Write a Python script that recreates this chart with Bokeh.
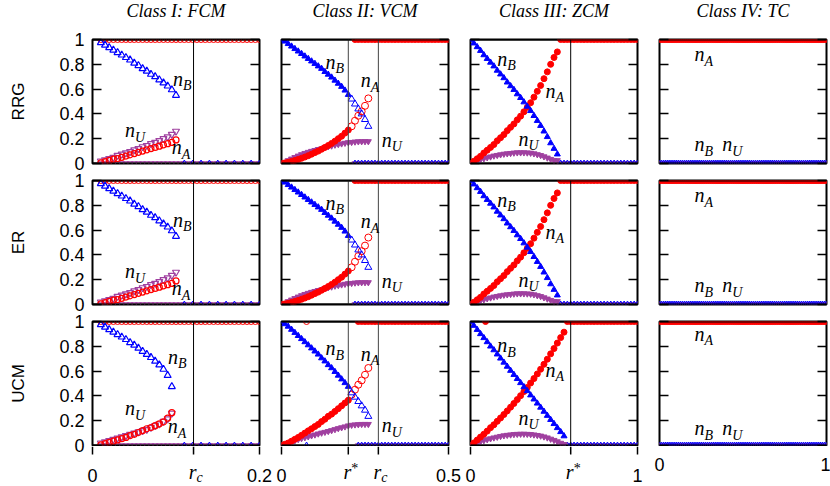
import numpy as np
from bokeh.plotting import figure
from bokeh.layouts import gridplot, column, row
from bokeh.models import Span, Label, FixedTicker, LinearAxis, Range1d
from bokeh.embed import file_html
from bokeh.resources import INLINE

# ---------------- data ----------------
titles = ["Class I: FCM", "Class II: VCM", "Class III: ZCM", "Class IV: TC"]
rows = ["RRG", "ER", "UCM"]
x_max = [0.2, 0.5, 1.0, 1.0]
y_ticks = [0, 0.2, 0.4, 0.6, 0.8, 1]
y_tick_labels = ["0", "0.2", "0.4", "0.6", "0.8", "1"]

# Class I : FCM
fcm_rc = 0.121
fcm_x = [0.01, 0.015, 0.02, 0.025, 0.03, 0.035, 0.04, 0.045, 0.05, 0.055,
         0.06, 0.065, 0.07, 0.075, 0.08, 0.085, 0.09, 0.095, 0.1]
fcm_rrg_nB = [.975, .955, .935, .915, .895, .875, .855, .835, .81, .79, .765, .745, .72, .70, .675, .65, .625, .595, .55]
fcm_rrg_nU = [.02, .03, .04, .05, .065, .075, .085, .095, .11, .12, .135, .145, .16, .17, .185, .20, .215, .235, .26]
fcm_rrg_nA = [.005, .015, .025, .035, .04, .05, .06, .07, .08, .09, .10, .11, .12, .13, .14, .15, .16, .17, .19]
fcm_er_nB = [.975, .955, .935, .915, .895, .875, .855, .835, .81, .79, .765, .745, .72, .70, .675, .65, .625, .595, .55]
fcm_er_nU = [.02, .03, .04, .05, .065, .075, .085, .095, .11, .12, .135, .145, .16, .17, .185, .20, .215, .235, .26]
fcm_er_nA = [.005, .015, .025, .035, .04, .05, .06, .07, .08, .09, .10, .11, .12, .13, .14, .15, .16, .17, .19]
fcm_ucm_x = fcm_x[:18]
fcm_ucm_nB = [.975, .955, .935, .915, .895, .875, .855, .83, .81, .785, .76, .735, .71, .68, .65, .615, .565, .475]
fcm_ucm_nU = [.02, .03, .04, .05, .06, .07, .08, .09, .10, .11, .12, .13, .145, .16, .175, .195, .215, .26]
fcm_ucm_nA = [.005, .015, .025, .035, .045, .055, .065, .08, .09, .105, .12, .135, .145, .16, .175, .19, .22, .265]
fcm_top_x = np.round(np.arange(0.01, 0.2001, 0.005), 4)      # n_A = 1 branch
fcm_zeroB_x = np.round(np.arange(0.11, 0.2001, 0.01), 4)     # n_B = 0 branch

# Class II : VCM
vcm_rstar, vcm_rc = 0.2, 0.29
vcm_x = [0.0, 0.01, 0.02, 0.03, 0.04, 0.05, 0.06, 0.07, 0.08, 0.09, 0.10,
         0.11, 0.12, 0.13, 0.14, 0.15, 0.16, 0.17, 0.18, 0.19, 0.20]
vcm_tail_x = [0.21, 0.22, 0.23, 0.24, 0.25, 0.26]
vcm_rrg_nB = [1.0, .985, .965, .945, .925, .905, .885, .865, .845, .825, .805, .785, .765, .74, .718, .695, .67, .645, .62, .59, .555]
vcm_rrg_nA = [0, .005, .01, .017, .025, .033, .042, .052, .063, .075, .088, .10, .115, .13, .145, .162, .18, .20, .22, .245, .27]
vcm_rrg_nU = [0, .01, .025, .038, .05, .062, .073, .083, .092, .10, .107, .115, .12, .13, .137, .143, .15, .155, .16, .165, .17]
vcm_rrg_tail_nB = [.52, .48, .44, .40, .355, .30]
vcm_rrg_tail_nA = [.30, .345, .385, .42, .465, .525]
vcm_rrg_tail_nU = [.172, .175, .177, .178, .178, .178]
vcm_er_nB = [1.0, .985, .965, .945, .925, .905, .885, .865, .845, .825, .805, .785, .765, .74, .718, .695, .67, .645, .62, .59, .555]
vcm_er_nA = [0, .005, .01, .017, .025, .033, .042, .052, .063, .075, .088, .10, .115, .13, .145, .162, .18, .20, .22, .245, .27]
vcm_er_nU = [0, .01, .025, .038, .05, .062, .073, .083, .092, .10, .107, .115, .12, .13, .137, .143, .15, .155, .16, .165, .17]
vcm_er_tail_nB = [.52, .48, .44, .40, .355, .30]
vcm_er_tail_nA = [.30, .345, .39, .43, .475, .54]
vcm_er_tail_nU = [.172, .175, .177, .178, .178, .178]
vcm_ucm_nB = [1.0, .98, .96, .935, .91, .885, .86, .835, .81, .785, .76, .735, .705, .68, .65, .625, .595, .565, .535, .505, .475]
vcm_ucm_nA = [0, .01, .02, .035, .05, .065, .082, .10, .118, .135, .153, .17, .193, .212, .235, .253, .275, .297, .32, .343, .365]
vcm_ucm_nU = [0, .01, .02, .03, .04, .05, .058, .065, .072, .08, .087, .095, .102, .108, .115, .122, .13, .138, .145, .152, .16]
vcm_ucm_tail_nB = [.425, .39, .355, .32, .285, .235]
vcm_ucm_tail_nA = [.41, .45, .49, .525, .57, .625]
vcm_ucm_tail_nU = [.165, .168, .17, .172, .172, .172]
vcm_branch_x = np.round(np.arange(0.22, 0.5001, 0.01), 4)
vcm_ucm_branch_x = np.round(np.arange(0.23, 0.5001, 0.01), 4)
vcm_ucm_stray_x = [0.075]

# Class III : ZCM
zcm_rstar = 0.6
zcm_x = [0.0, 0.02, 0.04, 0.06, 0.08, 0.10, 0.12, 0.14, 0.16, 0.18, 0.20, 0.22, 0.24, 0.26,
         0.28, 0.30, 0.32, 0.34, 0.36, 0.38, 0.40, 0.42, 0.44, 0.46, 0.48, 0.50, 0.52]
zcm_rrg_nB = [1, .97, .94, .91, .875, .845, .815, .785, .75, .72, .69, .655, .625, .595, .56, .53, .495, .46, .425, .385, .345, .305, .26, .215, .165, .12, .075]
zcm_rrg_nU = [0, .012, .022, .032, .04, .048, .055, .062, .067, .072, .077, .08, .083, .086, .088, .088, .088, .087, .085, .08, .073, .066, .056, .046, .035, .025, .025]
zcm_rrg_nA = [0, .018, .038, .058, .085, .107, .13, .153, .183, .208, .233, .265, .292, .319, .352, .382, .417, .453, .49, .535, .582, .629, .684, .739, .80, .855, .90]
zcm_er_nB = [1, .97, .94, .91, .875, .845, .815, .785, .75, .72, .69, .655, .625, .595, .56, .53, .495, .46, .425, .385, .345, .305, .26, .215, .165, .12, .075]
zcm_er_nU = [0, .012, .022, .032, .04, .048, .055, .062, .067, .072, .077, .08, .083, .086, .088, .088, .088, .087, .085, .08, .073, .066, .056, .046, .035, .025, .025]
zcm_er_nA = [0, .018, .038, .058, .085, .107, .13, .153, .183, .208, .233, .265, .292, .319, .352, .382, .417, .453, .49, .535, .582, .629, .684, .739, .80, .855, .90]
zcm_ucm_x = zcm_x + [0.54, 0.56]
zcm_ucm_nB = [1, .967, .934, .90, .868, .835, .80, .77, .736, .703, .67, .637, .604, .571, .538, .505, .472, .44, .406, .373, .34, .307, .274, .241, .208, .175, .142, .11, .076]
zcm_ucm_nU = [0, .012, .022, .032, .041, .049, .056, .063, .069, .075, .08, .084, .087, .09, .092, .093, .093, .092, .09, .087, .083, .078, .071, .063, .053, .043, .032, .02, .01]
zcm_ucm_nA = [0, .021, .044, .068, .091, .116, .144, .167, .195, .222, .25, .279, .309, .339, .37, .402, .435, .468, .504, .54, .577, .615, .655, .696, .739, .782, .826, .87, .914]
zcm_branch_x = np.round(np.arange(0.54, 1.0001, 0.02), 4)
zcm_ucm_branch_x = np.round(np.arange(0.58, 1.0001, 0.02), 4)
zcm_ucm_stray_x = [0.09]

# Class IV : TC
tc_x = np.round(np.arange(0.0, 1.0001, 0.0125), 4)

# positions of the in-panel labels n_X (data coords of the baseline of the letter n)
label_pos = {
    0: {"RRG": [("B", .0964, .629), ("U", .039, .21), ("A", .095, .073)],
        "ER":  [("B", .0964, .629), ("U", .039, .21), ("A", .095, .073)],
        "UCM": [("B", .0904, .661), ("U", .039, .242), ("A", .090, .10)]},
    1: {"RRG": [("B", .132, .766), ("A", .237, .613), ("U", .30, .137)],
        "ER":  [("B", .132, .766), ("A", .237, .613), ("U", .30, .137)],
        "UCM": [("B", .132, .726), ("A", .237, .685), ("U", .30, .107)]},
    2: {"RRG": [("B", .16, .79), ("A", .449, .532), ("U", .287, .145)],
        "ER":  [("B", .16, .79), ("A", .449, .532), ("U", .287, .145)],
        "UCM": [("B", .16, .752), ("A", .449, .556), ("U", .287, .169)]},
    3: {"RRG": [("A", .21, .823), ("B", .21, .097), ("U", .375, .097)],
        "ER":  [("A", .21, .823), ("B", .21, .097), ("U", .375, .097)],
        "UCM": [("A", .21, .843), ("B", .21, .081), ("U", .375, .081)]},
}

bottom_ticks = {0: [0, fcm_rc, 0.2], 1: [0, vcm_rstar, vcm_rc, 0.5], 2: [0, zcm_rstar, 1.0], 3: []}
bottom_num_labels = {0: [(0, "0"), (0.2, "0.2")], 1: [(0, "0"), (0.5, "0.5")],
                     2: [(0, "0"), (1.0, "1")], 3: [(0, "0"), (1.0, "1")]}
r_labels = {0: [(fcm_rc, "c")], 1: [(vcm_rstar, "*"), (vcm_rc, "c")], 2: [(zcm_rstar, "*")], 3: []}

# ---------------- styling / layout ----------------
SERIF = "Liberation Serif"
SANS = "Liberation Sans"
RED, BLUE, PURPLE = "#ff0000", "#0000ff", "#a040a0"
MARK = {"A": ("circle", RED), "B": ("triangle", BLUE), "U": ("inverted_triangle", PURPLE)}

W_TOTAL = 830
H_TOTAL = 485
LEFT_W = 86                     # full-height strip holding y tick labels and row names
FW, FH = 167, 124
BORDER_L = [6, 8, 8, 11]
BORDER_R = [14, 14, 11, 4]
BORDER_T = [9, 9, 9]
BORDER_B = [8, 8, 1]
TITLE_H = 30
GRID_H = sum(BORDER_T) + sum(BORDER_B) + 3 * FH
XLAB_H = H_TOTAL - TITLE_H - GRID_H
RIGHT_W = W_TOTAL - LEFT_W
TICK_LEN = 9

# page x of each column's frame left edge
col_left = []
acc = LEFT_W
for c in range(4):
    col_left.append(acc + BORDER_L[c])
    acc += BORDER_L[c] + FW + BORDER_R[c]


def pts(p, x, y, s, size=6, filled=False, lw=1.0):
    m, col = MARK[s]
    p.scatter(x=list(x), y=list(y), marker=m, size=size, line_color=col, line_width=lw,
              fill_color=col if filled else None)


def const(xs, v):
    return [v] * len(xs)


def txt(**kw):
    kw.setdefault("text_baseline", "middle")
    kw.setdefault("text_color", "black")
    return Label(**kw)


def nlabel(p, s, x, y):
    # (x, y) is the baseline start of "n"; labels are anchored at their middle
    p.add_layout(txt(x=x, y=y, y_offset=7, text="n", text_font=SERIF, text_font_style="italic",
                     text_font_size="20px"))
    p.add_layout(txt(x=x, y=y, x_offset=10, y_offset=0, text=s, text_font=SERIF,
                     text_font_style="italic", text_font_size="14px"))


def draw_fcm(p, row_name):
    if row_name == "UCM":
        x, nA, nB, nU = fcm_ucm_x, fcm_ucm_nA, fcm_ucm_nB, fcm_ucm_nU
    elif row_name == "ER":
        x, nA, nB, nU = fcm_x, fcm_er_nA, fcm_er_nB, fcm_er_nU
    else:
        x, nA, nB, nU = fcm_x, fcm_rrg_nA, fcm_rrg_nB, fcm_rrg_nU
    pts(p, fcm_top_x, const(fcm_top_x, 1.0), "A")
    pts(p, fcm_top_x, const(fcm_top_x, 0.0), "U")
    pts(p, fcm_zeroB_x, const(fcm_zeroB_x, 0.0), "B")
    pts(p, x, nU, "U", size=7, lw=1.2)
    pts(p, x, nA, "A", size=6, lw=1.2)
    pts(p, x, nB, "B", size=7, lw=1.2)
    p.add_layout(Span(location=fcm_rc, dimension="height", line_color="black", line_width=1))


def draw_vcm(p, row_name):
    if row_name == "UCM":
        d = (vcm_ucm_nA, vcm_ucm_nB, vcm_ucm_nU, vcm_ucm_tail_nA, vcm_ucm_tail_nB, vcm_ucm_tail_nU)
        bx = vcm_ucm_branch_x
    elif row_name == "ER":
        d = (vcm_er_nA, vcm_er_nB, vcm_er_nU, vcm_er_tail_nA, vcm_er_tail_nB, vcm_er_tail_nU)
        bx = vcm_branch_x
    else:
        d = (vcm_rrg_nA, vcm_rrg_nB, vcm_rrg_nU, vcm_rrg_tail_nA, vcm_rrg_tail_nB, vcm_rrg_tail_nU)
        bx = vcm_branch_x
    nA, nB, nU, tA, tB, tU = d
    p.add_layout(Span(location=vcm_rstar, dimension="height", line_color="#444444", line_width=1))
    p.add_layout(Span(location=vcm_rc, dimension="height", line_color="#444444", line_width=1))
    pts(p, bx, const(bx, 1.0), "A", filled=True)
    pts(p, bx, const(bx, 0.0), "U")
    pts(p, bx, const(bx, 0.0), "B")
    if row_name == "UCM":
        pts(p, vcm_ucm_stray_x, const(vcm_ucm_stray_x, 1.0), "A")
        pts(p, vcm_ucm_stray_x, const(vcm_ucm_stray_x, 0.0), "B")
    pts(p, vcm_x, nU, "U", filled=True)
    pts(p, vcm_tail_x, tU, "U", filled=True)
    pts(p, vcm_x, nA, "A", filled=True)
    pts(p, vcm_tail_x, tA, "A", size=7)
    pts(p, vcm_x, nB, "B", filled=True)
    pts(p, vcm_tail_x, tB, "B", size=7)


def draw_zcm(p, row_name):
    if row_name == "UCM":
        x, nA, nB, nU, bx = zcm_ucm_x, zcm_ucm_nA, zcm_ucm_nB, zcm_ucm_nU, zcm_ucm_branch_x
    elif row_name == "ER":
        x, nA, nB, nU, bx = zcm_x, zcm_er_nA, zcm_er_nB, zcm_er_nU, zcm_branch_x
    else:
        x, nA, nB, nU, bx = zcm_x, zcm_rrg_nA, zcm_rrg_nB, zcm_rrg_nU, zcm_branch_x
    p.add_layout(Span(location=zcm_rstar, dimension="height", line_color="black", line_width=1))
    pts(p, bx, const(bx, 1.0), "A", filled=True)
    pts(p, bx, const(bx, 0.0), "U")
    pts(p, bx, const(bx, 0.0), "B")
    if row_name == "UCM":
        pts(p, zcm_ucm_stray_x, const(zcm_ucm_stray_x, 1.0), "A", filled=True)
    pts(p, x, nU, "U", filled=True)
    pts(p, x, nA, "A", filled=True)
    pts(p, x, nB, "B", filled=True)


def draw_tc(p, row_name):
    pts(p, tc_x, const(tc_x, 1.0), "A", filled=True)
    pts(p, tc_x, const(tc_x, 0.0), "U")
    pts(p, tc_x, const(tc_x, 0.0), "B")


drawers = [draw_fcm, draw_vcm, draw_zcm, draw_tc]


def plain(width, height, xr, yr):
    s = figure(frame_width=width, frame_height=height, x_range=xr, y_range=yr,
               output_backend="svg", toolbar_location=None, title=None,
               x_axis_location=None, y_axis_location=None, min_border=0,
               min_border_left=0, min_border_right=0, min_border_top=0, min_border_bottom=0)
    s.outline_line_color = None
    s.background_fill_color = "white"
    s.border_fill_color = "white"
    s.xgrid.visible = False
    s.ygrid.visible = False
    return s


def column_ranges():
    # one x range per panel column, matching that column's data scale across the strip width
    out = {}
    for c in range(4):
        u = x_max[c] / FW
        out["c%d" % c] = Range1d(-(col_left[c] - LEFT_W) * u, (W_TOTAL - col_left[c]) * u)
    return out


def hide_labels(axis):
    # tick marks only: labels are never painted and take no room
    axis.major_label_text_color = None
    axis.major_label_text_font_size = "0px"
    axis.major_label_standoff = 0
    axis.axis_label = None


# ---- title strip ----
title_fig = plain(RIGHT_W, TITLE_H, Range1d(0, RIGHT_W), Range1d(0, TITLE_H))
title_fig.extra_x_ranges = column_ranges()
for c in range(4):
    title_fig.add_layout(txt(x=x_max[c] / 2, y=20, x_range_name="c%d" % c, text=titles[c],
                             text_align="center", text_font=SERIF, text_font_style="italic",
                             text_font_size="18px"))

# ---- left strip (full height): y tick labels and row names ----
left_fig = plain(LEFT_W, H_TOTAL, Range1d(0, LEFT_W), Range1d(0, H_TOTAL))
yr = {}
top_acc = TITLE_H
for r in range(3):
    frame_top = top_acc + BORDER_T[r]
    b = H_TOTAL - (frame_top + FH)
    yr["r%d" % r] = Range1d(-b / FH, (H_TOTAL - b) / FH)
    top_acc += BORDER_T[r] + FH + BORDER_B[r]
left_fig.extra_y_ranges = yr
for r, row_name in enumerate(rows):
    for t, l in zip(y_ticks, y_tick_labels):
        left_fig.add_layout(txt(x=84, y=t, y_range_name="r%d" % r, text=l, text_align="right",
                                text_font=SANS, text_font_size="18px"))
    left_fig.add_layout(txt(x=18, y=0.5, y_range_name="r%d" % r, text=row_name, angle=np.pi / 2,
                            text_align="center", text_font=SANS, text_font_size="17px"))

# ---- panels ----
figs = []
for r, row_name in enumerate(rows):
    for c in range(4):
        p = figure(frame_width=FW, frame_height=FH,
                   x_range=Range1d(0, x_max[c]), y_range=Range1d(0, 1),
                   output_backend="svg", toolbar_location=None, title=None,
                   x_axis_location=None, min_border=0,
                   min_border_left=BORDER_L[c], min_border_right=BORDER_R[c],
                   min_border_top=BORDER_T[r], min_border_bottom=BORDER_B[r])
        p.background_fill_color = "white"
        p.border_fill_color = "white"
        p.outline_line_color = "black"
        p.outline_line_width = 2
        p.outline_line_alpha = 1.0
        p.xgrid.visible = False
        p.ygrid.visible = False

        ya = p.yaxis[0]
        ya.ticker = FixedTicker(ticks=y_ticks)
        ya.major_tick_in = 9
        ya.major_tick_out = 0
        ya.minor_tick_in = 0
        ya.minor_tick_out = 0
        ya.axis_line_color = None
        ya.major_tick_line_color = "black"
        ya.major_tick_line_width = 1.5
        hide_labels(ya)

        ra = LinearAxis(ticker=FixedTicker(ticks=y_ticks), major_tick_in=9, major_tick_out=0,
                        minor_tick_in=0, minor_tick_out=0, axis_line_color=None,
                        major_tick_line_color="black", major_tick_line_width=1.5)
        hide_labels(ra)
        p.add_layout(ra, "right")

        drawers[c](p, row_name)
        # frame edges drawn over the markers that sit on y = 0 and y = 1
        p.add_layout(Span(location=1, dimension="width", line_color="black", line_width=2))
        p.add_layout(Span(location=0, dimension="width", line_color="black", line_width=2))
        for (s, lx, ly) in label_pos[c][row_name]:
            nlabel(p, s, lx, ly)
        figs.append(p)

grid = gridplot(figs, ncols=4, toolbar_location=None)

# ---- bottom strip: outward x ticks and x tick labels ----
xlab_fig = plain(RIGHT_W, XLAB_H, Range1d(0, RIGHT_W), Range1d(0, XLAB_H))
xlab_fig.extra_x_ranges = column_ranges()
for c in range(4):
    rn = "c%d" % c
    tk = bottom_ticks[c]
    if tk:
        xlab_fig.segment(x0=tk, y0=[XLAB_H] * len(tk), x1=tk, y1=[XLAB_H - TICK_LEN + 1] * len(tk),
                         x_range_name=rn, line_color="black", line_width=1.5)
    ny = 10.5 if c < 3 else 21.5
    for (xv, t) in bottom_num_labels[c]:
        xlab_fig.add_layout(txt(x=xv, y=ny, x_range_name=rn,
                                x_offset=-1 if (c == 3 and xv == 1.0) else 0, text=t,
                                text_align="center", text_font=SANS, text_font_size="18px"))
    for (xv, t) in r_labels[c]:
        xlab_fig.add_layout(txt(x=xv, y=14, x_range_name=rn, x_offset=-1, text="r",
                                text_align="center", text_font=SERIF, text_font_style="italic",
                                text_font_size="20px"))
        if t == "c":
            xlab_fig.add_layout(txt(x=xv, y=8, x_range_name=rn, x_offset=3, text="c",
                                    text_font=SERIF, text_font_style="italic",
                                    text_font_size="14px"))
        else:
            xlab_fig.add_layout(txt(x=xv, y=17.5, x_range_name=rn, x_offset=3, text="*",
                                    text_font=SERIF, text_font_size="14px"))

layout = row(left_fig, column(title_fig, grid, xlab_fig))
open("out.html", "w").write(file_html(layout, INLINE))
